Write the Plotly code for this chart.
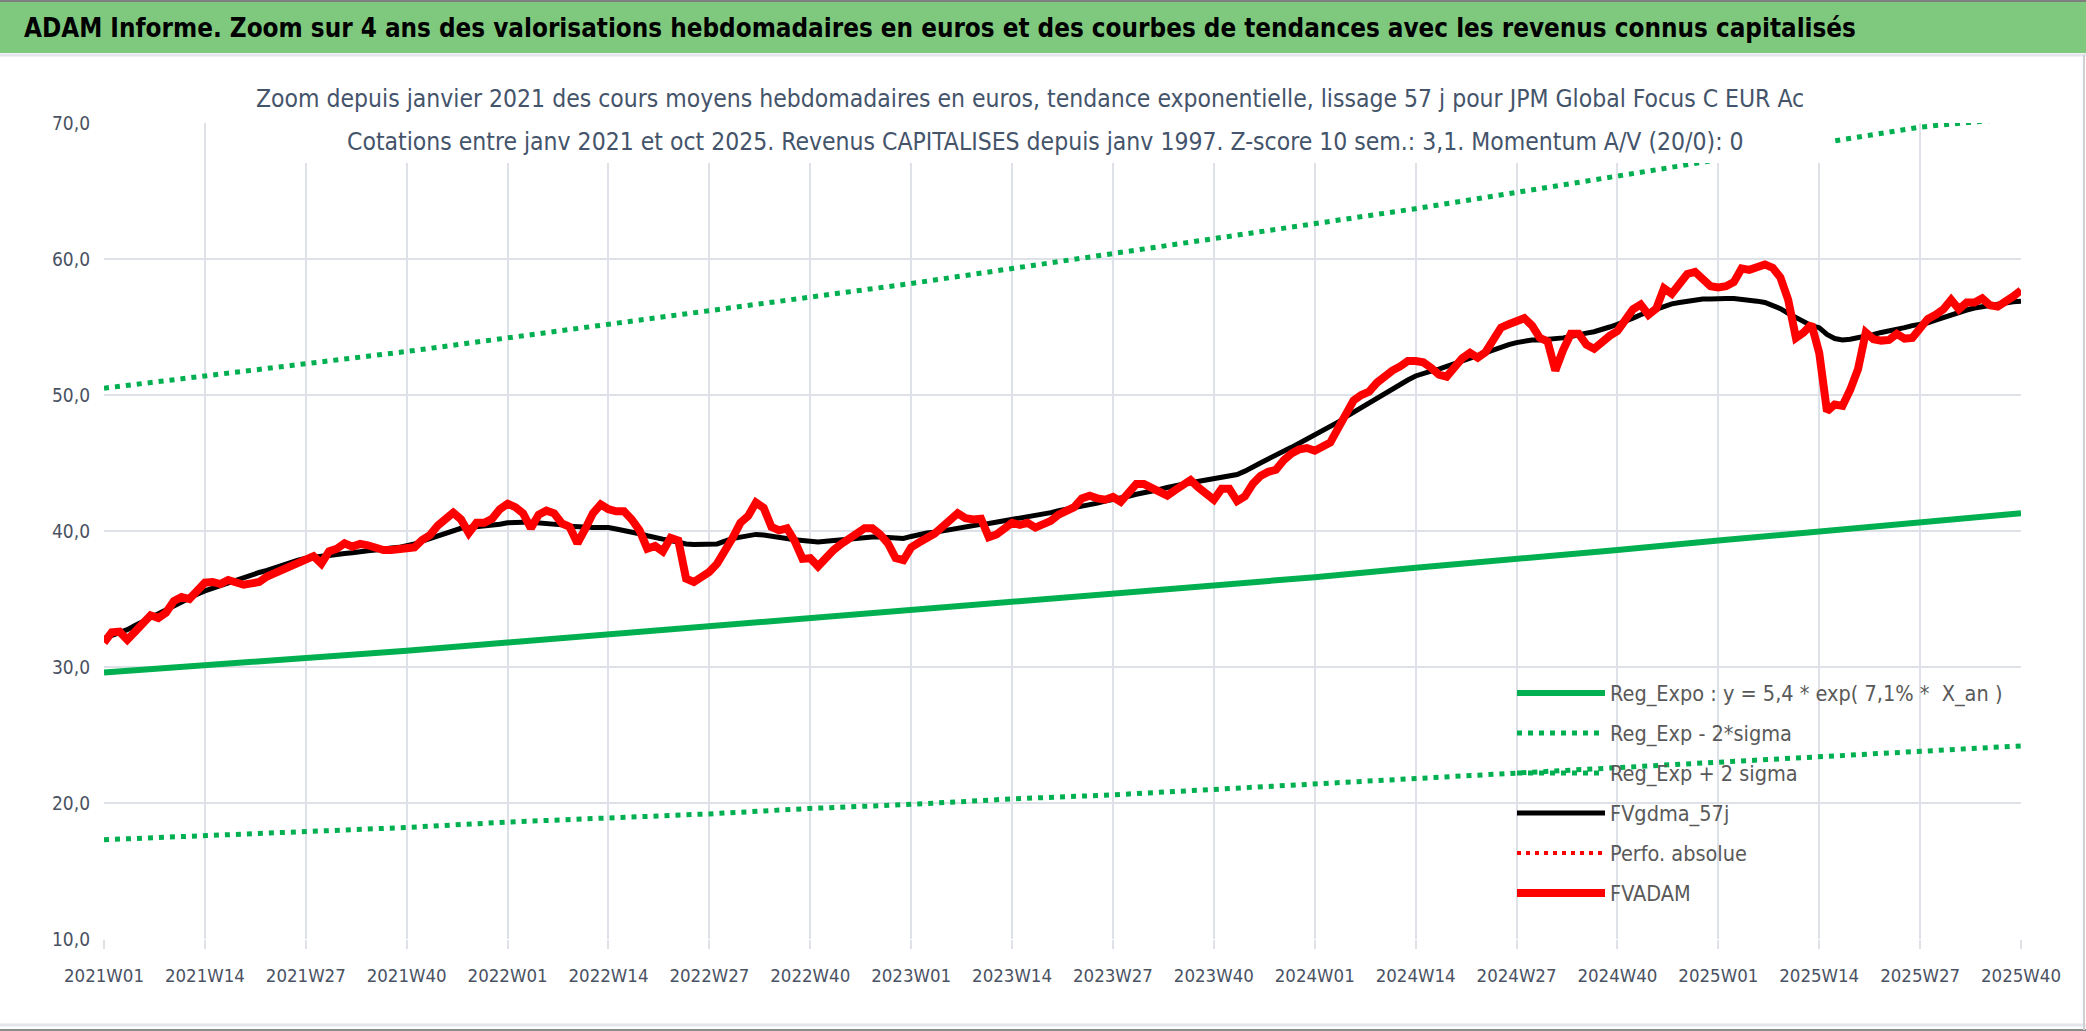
import plotly.graph_objects as go

# weekly categories 2021W01 .. 2025W40 (52 weeks per year)
weeks = [f"{y}W{w:02d}" for y in range(2021, 2026) for w in range(1, 53)][:248]
tick_labels = ["2021W01", "2021W14", "2021W27", "2021W40", "2022W01", "2022W14", "2022W27",
               "2022W40", "2023W01", "2023W14", "2023W27", "2023W40", "2024W01", "2024W14",
               "2024W27", "2024W40", "2025W01", "2025W14", "2025W27", "2025W40"]

# trend lines read at the tick weeks
reg_expo = [29.6, 30.1, 30.7, 31.2, 31.8, 32.4, 32.9, 33.5, 34.1, 34.7,
            35.3, 36.0, 36.6, 37.3, 37.9, 38.6, 39.3, 40.0, 40.6, 41.3]
reg_minus = [17.3, 17.6, 17.9, 18.2, 18.6, 18.9, 19.2, 19.6, 19.9, 20.3,
             20.6, 21.0, 21.4, 21.8, 22.2, 22.6, 23.0, 23.4, 23.8, 24.2]
reg_plus = [50.5, 51.4, 52.3, 53.2, 54.2, 55.2, 56.2, 57.2, 58.2, 59.3,
            60.4, 61.5, 62.6, 63.7, 64.9, 66.1, 67.3, 68.5, 69.7, 70.4]

fvadam = [31.8, 32.55, 32.6, 32.0, 32.6, 33.2, 33.8, 33.6, 34.0, 34.85,
          35.15, 35.0, 35.7, 36.2, 36.25, 36.1, 36.4, 36.25, 36.05, 36.15,
          36.25, 36.65, 36.9, 37.15, 37.4, 37.7, 38.0, 38.15, 37.6, 38.5,
          38.7, 39.1, 38.85, 39.05, 38.95, 38.7, 38.6, 38.6, 38.65, 38.7,
          38.8, 39.35, 39.7, 40.4, 40.95, 41.35, 40.85, 39.85, 40.6, 40.6,
          40.9, 41.6, 42.0, 41.75, 41.3, 40.2, 41.2, 41.5, 41.3, 40.55,
          40.3, 39.1, 40.15, 41.3, 41.95, 41.6, 41.45, 41.45, 40.85, 40.05,
          38.7, 38.9, 38.5, 39.5, 39.3, 36.5, 36.25, 36.6, 37.0, 37.6,
          38.5, 39.5, 40.6, 41.1, 42.1, 41.7, 40.3, 40.05, 40.2, 39.25,
          37.95, 38.0, 37.4, 38.1, 38.6, 39.05, 39.4, 39.7, 40.2, 40.2,
          39.75, 39.1, 38.0, 37.85, 38.8, 39.15, 39.45, 39.8, 40.3, 40.9,
          41.3, 40.95, 40.85, 40.9, 39.55, 39.75, 40.1, 40.6, 40.45, 40.6,
          40.25, 40.45, 40.75, 41.2, 41.45, 41.75, 42.4, 42.6, 42.4, 42.3,
          42.5, 42.15, 42.8, 43.45, 43.45, 43.15, 42.85, 42.6, 43.0, 43.45,
          43.75, 43.2, 42.75, 42.3, 43.1, 43.1, 42.2, 42.55, 43.45, 44.05,
          44.35, 44.5, 45.2, 45.7, 46.0, 46.1, 45.9, 46.15, 46.5, 47.55,
          48.6, 49.6, 50.0, 50.25, 50.9, 51.45, 51.8, 52.1, 52.5, 52.5,
          52.4, 52.0, 51.5, 51.35, 52.05, 52.7, 53.1, 52.75, 53.15, 54.15,
          54.95, 55.2, 55.4, 55.65, 55.1, 54.2, 53.95, 51.8, 53.3, 54.5,
          54.5, 53.7, 53.4, 53.95, 54.35, 54.7, 55.4, 56.3, 56.65, 55.9,
          56.35, 57.85, 57.45, 58.15, 58.9, 59.05, 58.45, 58.0, 57.9, 58.0,
          58.3, 59.3, 59.2, 59.45, 59.6, 59.35, 58.65, 57.0, 54.2, 54.6,
          55.2, 53.1, 48.8, 49.3, 49.2, 50.4, 51.9, 54.6, 54.1, 54.0,
          54.05, 54.5, 54.15, 54.2, 54.8, 55.6, 55.9, 56.3, 57.0, 56.3,
          56.8, 56.8, 57.1, 56.6, 56.5, 56.8, 57.25, 57.7]

fvgdma = [32.1, 32.3, 32.5, 32.75, 33.05, 33.35, 33.65, 33.95, 34.2, 34.5,
          34.8, 35.05, 35.35, 35.6, 35.8, 36.0, 36.2, 36.4, 36.55, 36.75,
          36.95, 37.1, 37.3, 37.5, 37.65, 37.85, 38.0, 38.1, 38.15, 38.2,
          38.3, 38.35, 38.4, 38.5, 38.55, 38.6, 38.7, 38.75, 38.8, 38.9,
          39.05, 39.25, 39.45, 39.65, 39.85, 40.0, 40.2, 40.25, 40.3, 40.35,
          40.4, 40.5, 40.6, 40.65, 40.65, 40.65, 40.6, 40.6, 40.5, 40.45,
          40.35, 40.3, 40.25, 40.25, 40.25, 40.25, 40.15, 40.05, 39.9, 39.8,
          39.65, 39.5, 39.4, 39.3, 39.15, 39.05, 39.0, 39.0, 39.0, 39.05,
          39.25, 39.45, 39.55, 39.65, 39.75, 39.7, 39.6, 39.5, 39.4, 39.35,
          39.3, 39.25, 39.2, 39.25, 39.3, 39.4, 39.45, 39.5, 39.5, 39.55,
          39.55, 39.5, 39.45, 39.45, 39.6, 39.75, 39.85, 39.9, 40.0, 40.15,
          40.25, 40.35, 40.45, 40.5, 40.55, 40.65, 40.7, 40.8, 40.9, 41.0,
          41.1, 41.25, 41.35, 41.5, 41.6, 41.75, 41.85, 41.95, 42.05, 42.2,
          42.3, 42.4, 42.55, 42.7, 42.8, 42.95, 43.05, 43.2, 43.35, 43.45,
          43.55, 43.65, 43.7, 43.8, 43.9, 44.05, 44.15, 44.4, 44.75, 45.0,
          45.3, 45.55, 45.85, 46.15, 46.45, 46.75, 47.05, 47.3, 47.6, 48.0,
          48.4, 48.75, 49.1, 49.4, 49.7, 50.05, 50.45, 50.85, 51.1, 51.4,
          51.6, 51.75, 51.9, 52.1, 52.3, 52.5, 52.7, 52.9, 53.1, 53.35,
          53.55, 53.7, 53.85, 53.95, 54.05, 54.05, 54.1, 54.1, 54.2, 54.3,
          54.45, 54.55, 54.65, 54.8, 55.0, 55.2, 55.4, 55.65, 55.9, 56.1,
          56.3, 56.5, 56.7, 56.8, 56.9, 57.0, 57.05, 57.05, 57.1, 57.1,
          57.1, 57.05, 57.0, 56.9, 56.8, 56.6, 56.35, 56.0, 55.7, 55.3,
          55.1, 54.95, 54.45, 54.15, 54.05, 54.1, 54.2, 54.35, 54.45, 54.6,
          54.7, 54.85, 54.95, 55.1, 55.2, 55.3, 55.5, 55.7, 55.9, 56.05,
          56.25, 56.4, 56.5, 56.6, 56.65, 56.75, 56.85, 56.9]

perfo_absolue = [None] * len(weeks)  # no visible values in this window

GREEN = "#00B050"
TXT = "#595959"
NARROW = "DejaVu Sans Condensed, Liberation Sans Narrow, sans-serif"

W, H = 2086, 1031
L, R, T, B = 104, 65, 123, 92   # plot area margins in px
pw, ph = W - L - R, H - T - B


def px_x(x):
    return (x - L) / pw


def px_y(y):
    return (H - B - y) / ph


fig = go.Figure()
fig.add_trace(go.Scatter(x=tick_labels, y=reg_expo, mode="lines", legend="legend",
                         name="Reg_Expo : y = 5,4 * exp( 7,1% *  X_an )",
                         line=dict(color=GREEN, width=6)))
fig.add_trace(go.Scatter(x=tick_labels, y=reg_minus, mode="lines", legend="legend2",
                         name="Reg_Exp - 2*sigma",
                         line=dict(color=GREEN, width=5, dash="5px,6px")))
fig.add_trace(go.Scatter(x=tick_labels, y=reg_plus, mode="lines", legend="legend3",
                         name="Reg_Exp + 2 sigma",
                         line=dict(color=GREEN, width=5, dash="5px,6px")))
fig.add_trace(go.Scatter(x=weeks, y=fvgdma, mode="lines", legend="legend4",
                         name="FVgdma_57j", line=dict(color="black", width=5)))
fig.add_trace(go.Scatter(x=weeks, y=perfo_absolue, mode="lines", legend="legend5",
                         name="Perfo. absolue",
                         line=dict(color="#FF0000", width=4, dash="4px,5px")))
fig.add_trace(go.Scatter(x=weeks, y=fvadam, mode="lines", legend="legend6",
                         name="FVADAM", line=dict(color="#FF0000", width=8)))

# one legend per row so the row spacing matches the original
row_y = [693, 733, 773, 813, 853, 893]
legends = {}
for k, yy in enumerate(row_y):
    key = "legend" if k == 0 else f"legend{k + 1}"
    legends[key] = dict(x=px_x(1512), y=px_y(yy), xanchor="left", yanchor="middle",
                        bgcolor="rgba(0,0,0,0)", font=dict(size=21.5, color=TXT),
                        itemwidth=88)

fig.update_layout(
    width=W, height=H,
    margin=dict(l=L, r=R, t=T, b=B),
    paper_bgcolor="white", plot_bgcolor="white",
    separators=", ",
    font=dict(family=NARROW, color=TXT),
    showlegend=True,
    xaxis=dict(type="category", categoryorder="array", categoryarray=weeks,
               range=[0, len(weeks) - 1], tickmode="array", tickvals=tick_labels,
               showgrid=True, gridcolor="#DEE2E8", gridwidth=2,
               ticks="outside", ticklen=9, tickcolor="#DEE2E8", tickwidth=2,
               ticklabelstandoff=11,
               tickfont=dict(size=18.5, color="#4A5263"), zeroline=False, showline=False),
    yaxis=dict(range=[10, 70], dtick=10, tickformat=".1f",
               showgrid=True, gridcolor="#DEE2E8", gridwidth=2,
               ticks="", ticklabelstandoff=13, tickfont=dict(size=19, color="#4A5263"),
               zeroline=False, showline=False),
    **legends,
)

# green banner with main title
fig.add_shape(type="rect", xref="paper", yref="paper", layer="above",
              x0=px_x(0), x1=px_x(W), y0=px_y(53), y1=px_y(0),
              fillcolor="#7FC97F", line=dict(width=0))
fig.add_shape(type="line", xref="paper", yref="paper", layer="above",
              x0=px_x(0), x1=px_x(W), y0=px_y(1), y1=px_y(1),
              line=dict(color="#7F7F7F", width=2))
fig.add_shape(type="line", xref="paper", yref="paper", layer="above",
              x0=px_x(0), x1=px_x(W), y0=px_y(55), y1=px_y(55),
              line=dict(color="#E3E5EA", width=3))
# frame at the bottom and right edge
fig.add_shape(type="line", xref="paper", yref="paper", layer="above",
              x0=px_x(0), x1=px_x(W), y0=px_y(1025), y1=px_y(1025),
              line=dict(color="#E3E5EA", width=3))
fig.add_shape(type="line", xref="paper", yref="paper", layer="above",
              x0=px_x(0), x1=px_x(W), y0=px_y(1030), y1=px_y(1030),
              line=dict(color="#8C8C8C", width=2))
fig.add_shape(type="line", xref="paper", yref="paper", layer="above",
              x0=px_x(2084), x1=px_x(2084), y0=px_y(55), y1=px_y(1030),
              line=dict(color="#D0D0D0", width=2))
fig.add_annotation(xref="paper", yref="paper", x=px_x(22), y=px_y(28),
                   xanchor="left", yanchor="middle", showarrow=False,
                   text="<b>ADAM Informe. Zoom sur 4 ans des valorisations hebdomadaires en euros et des courbes de tendances avec les revenus connus capitalisés</b>",
                   font=dict(family=NARROW, size=25.8, color="black"))

# chart title box (white background hides grid and curves)
fig.add_shape(type="rect", xref="paper", yref="paper", layer="above",
              x0=px_x(253), x1=px_x(1830), y0=px_y(163), y1=px_y(72),
              fillcolor="white", line=dict(width=0))
fig.add_annotation(xref="paper", yref="paper", x=px_x(1030), y=px_y(98),
                   xanchor="center", yanchor="middle", showarrow=False,
                   text="Zoom depuis janvier 2021 des cours moyens hebdomadaires en euros, tendance exponentielle, lissage 57 j pour JPM Global Focus C EUR Ac",
                   font=dict(family=NARROW, size=24.5, color="#44546A"))
fig.add_annotation(xref="paper", yref="paper", x=px_x(1045), y=px_y(141),
                   xanchor="center", yanchor="middle", showarrow=False,
                   text="Cotations entre janv 2021 et oct 2025. Revenus CAPITALISES depuis janv 1997. Z-score 10 sem.: 3,1. Momentum A/V (20/0): 0",
                   font=dict(family=NARROW, size=24.5, color="#44546A"))

# the page body has a default 8px margin; remove it so the figure fills the window
fig.write_html("out.html", config={"displayModeBar": False},
               post_script="document.body.style.margin='0px';")
